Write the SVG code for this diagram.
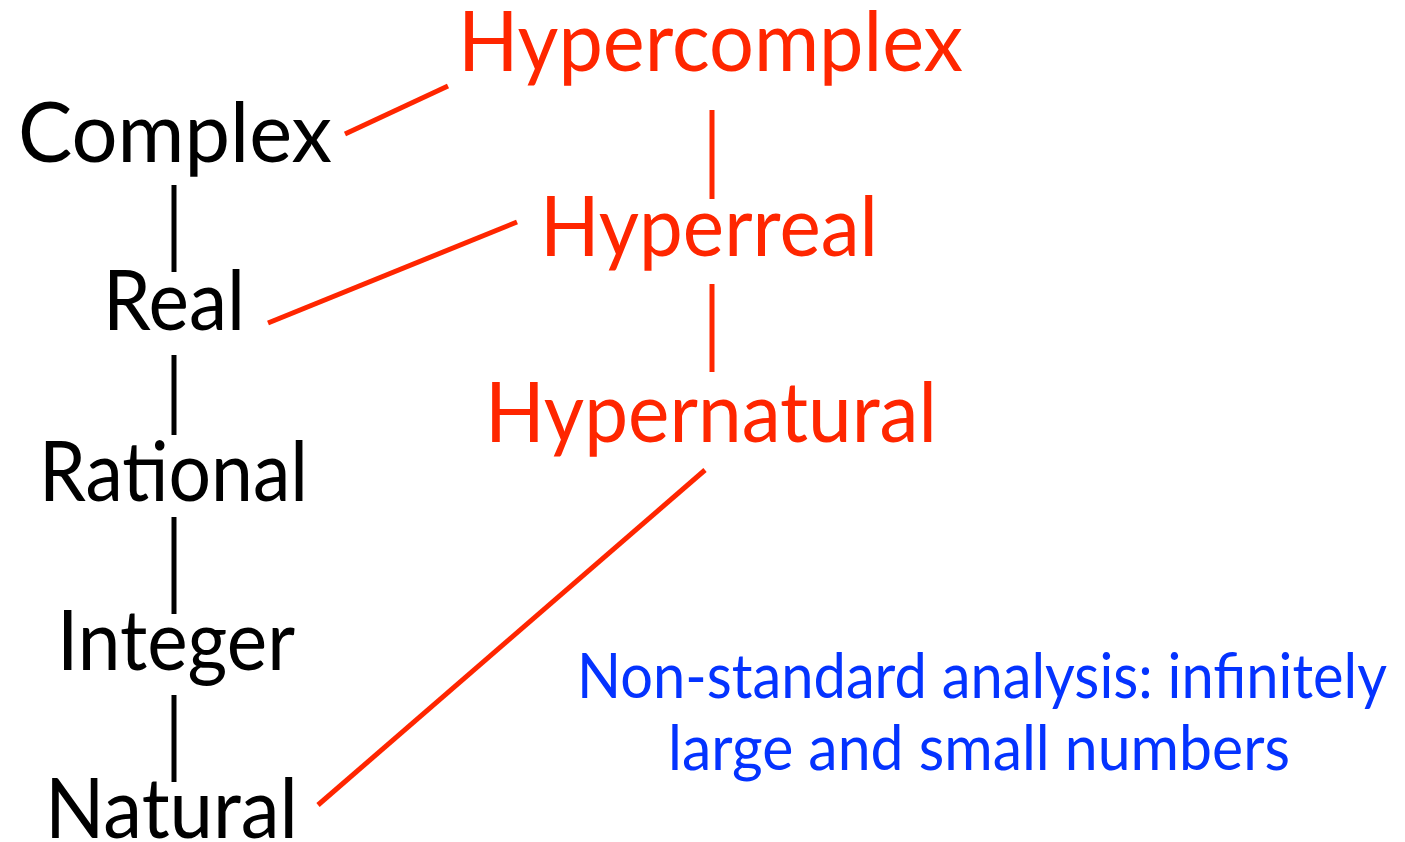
<svg xmlns="http://www.w3.org/2000/svg" width="1405" height="842" viewBox="0 0 1405 842">
<style>
text{font-family:Lato,"Open Sans","Liberation Sans",sans-serif;}
.k{fill:#000;font-size:83px;}
.r{fill:#ff2600;font-size:83px;}
.b{fill:#0433ff;font-size:61px;}
.lk{stroke:#000;stroke-width:5;fill:none;}
.lr{stroke:#ff2600;stroke-width:5;fill:none;}
</style>
<rect width="1405" height="842" fill="#fff"/>
<g id="connectors">
<line class="lk" x1="174" y1="185" x2="174" y2="272"/>
<line class="lk" x1="174" y1="355" x2="174" y2="435"/>
<line class="lk" x1="174" y1="517" x2="174" y2="614"/>
<line class="lk" x1="174" y1="695" x2="174" y2="782"/>
<line class="lr" x1="345" y1="134" x2="448" y2="86"/>
<line class="lr" x1="268" y1="323" x2="517" y2="222"/>
<line class="lr" x1="712" y1="110" x2="712" y2="199"/>
<line class="lr" x1="712" y1="284" x2="712" y2="372"/>
<line class="lr" x1="705" y1="470" x2="318" y2="805"/>
</g>
<g id="complex"><text class="k" x="18" y="162" textLength="314" lengthAdjust="spacingAndGlyphs">Complex</text></g>
<g id="real"><text class="k" x="103" y="330" textLength="142" lengthAdjust="spacingAndGlyphs">Real</text></g>
<g id="rational"><text class="k" x="39" y="501" textLength="269" lengthAdjust="spacingAndGlyphs">Rational</text></g>
<g id="integer"><text class="k" x="57" y="670" textLength="238" lengthAdjust="spacingAndGlyphs">Integer</text></g>
<g id="natural"><text class="k" x="45" y="838" textLength="253" lengthAdjust="spacingAndGlyphs">Natural</text></g>
<g id="hypercomplex"><text class="r" x="458" y="71" textLength="505" lengthAdjust="spacingAndGlyphs">Hypercomplex</text></g>
<g id="hyperreal"><text class="r" x="540" y="256" textLength="338" lengthAdjust="spacingAndGlyphs">Hyperreal</text></g>
<g id="hypernatural"><text class="r" x="485" y="442" textLength="452" lengthAdjust="spacingAndGlyphs">Hypernatural</text></g>
<g id="note">
<text class="b" x="577" y="698" textLength="810" lengthAdjust="spacingAndGlyphs">Non-standard analysis: infinitely</text>
<text class="b" x="668" y="770" textLength="622" lengthAdjust="spacingAndGlyphs">large and small numbers</text>
</g>
</svg>
